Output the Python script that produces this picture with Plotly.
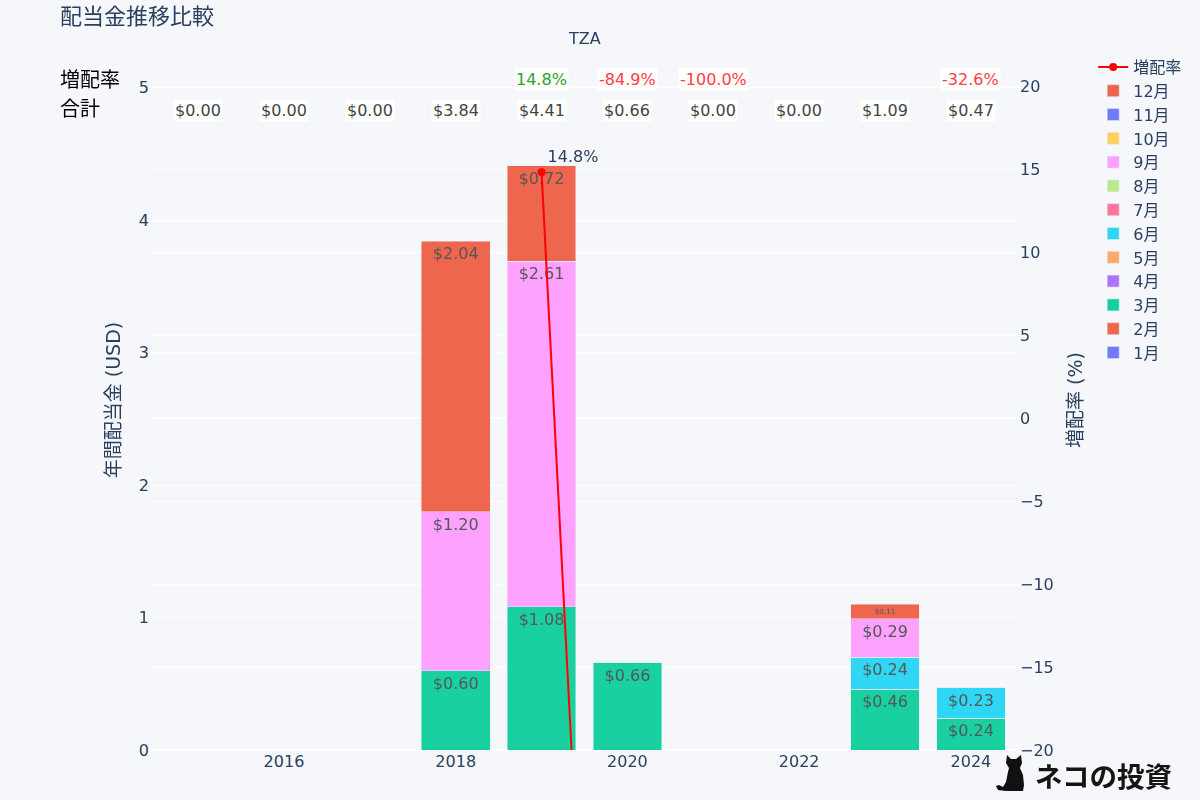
import plotly.graph_objects as go

years = [2015, 2016, 2017, 2018, 2019, 2020, 2021, 2022, 2023, 2024]
months = ["1月", "2月", "3月", "4月", "5月", "6月", "7月", "8月", "9月", "10月", "11月", "12月"]
colors = ["#636EFA", "#EF553B", "#00CC96", "#AB63FA", "#FFA15A", "#19D3F3",
          "#FF6692", "#B6E880", "#FF97FF", "#FECB52", "#636EFA", "#EF553B"]
mar = [0, 0, 0, 0.60, 1.08, 0.66, 0, 0, 0.46, 0.24]
jun = [0, 0, 0, 0, 0, 0, 0, 0, 0.24, 0.23]
sep = [0, 0, 0, 1.20, 2.61, 0, 0, 0, 0.29, 0]
dec = [0, 0, 0, 2.04, 0.72, 0, 0, 0, 0.11, 0]
empty = [0] * 10
month_values = [empty, empty, mar, empty, empty, jun, empty, empty, sep, empty, empty, dec]
totals = [0.00, 0.00, 0.00, 3.84, 4.41, 0.66, 0.00, 0.00, 1.09, 0.47]
growth = [None, None, None, None, 14.8, -84.9, -100.0, None, None, -32.6]

FONT = "DejaVu Sans, Noto Sans CJK JP, sans-serif"
BG = "#F5F7FB"
W, H = 1200, 800
L, R, T, B = 150, 181, 50, 50

fig = go.Figure()
for name, vals, col in zip(months, month_values, colors):
    fig.add_trace(go.Bar(
        x=years, y=vals, name=name, marker_color=col, opacity=0.9,
        text=[f"${v:.2f}" if v > 0 else "" for v in vals],
        textposition="inside", insidetextanchor="end",
        textangle=0,
        textfont=dict(color="#444444", size=16),
        hoverinfo="skip",
    ))

fig.add_trace(go.Scatter(
    x=years, y=growth, name="増配率", yaxis="y2", mode="lines+markers+text",
    connectgaps=True,
    line=dict(color="red", width=2), marker=dict(color="red", size=8),
    text=[f"{g:.1f}%" if g is not None else "" for g in growth],
    textposition="top right", textfont=dict(size=16),
))


def py(y):
    return (H - B - y) / (H - T - B)


def px(x):
    return (x - L) / (W - L - R)


annotations = [
    dict(text="TZA", x=0.5, y=py(39), xref="paper", yref="paper", showarrow=False,
         font=dict(size=16), yanchor="middle"),
    dict(text="増配率", x=px(58), y=py(80), xref="paper", yref="paper", showarrow=False,
         xanchor="left", yanchor="middle", font=dict(size=20, color="black")),
    dict(text="合計", x=px(58), y=py(109), xref="paper", yref="paper", showarrow=False,
         xanchor="left", yanchor="middle", font=dict(size=20, color="black")),
    dict(text="<b>ネコの投資</b>", x=px(1033), y=py(775), xref="paper", yref="paper", showarrow=False,
         xanchor="left", yanchor="middle",
         font=dict(size=27.5, color="#151515", family="Noto Sans CJK JP")),
]
for yr, total in zip(years, totals):
    annotations.append(dict(text=f"${total:.2f}", x=yr, y=py(110), xref="x", yref="paper",
                            showarrow=False, yanchor="middle", bgcolor="white",
                            font=dict(size=16, color="#444444")))
for yr, g in zip(years, growth):
    if g is not None:
        annotations.append(dict(text=f"{g:.1f}%", x=yr, y=py(80), xref="x", yref="paper",
                                showarrow=False, yanchor="middle", bgcolor="white",
                                font=dict(size=16, color="#2ca02c" if g >= 0 else "#ff4040")))

cat_px = [(1007, 755), (1011, 759), (1016, 759), (1021, 755), (1022, 763), (1020, 768), (1023, 775),
          (1024, 785), (1023, 791), (1006, 791), (998, 790), (996, 786), (999, 785), (1003, 787),
          (1006, 782), (1008, 772), (1009, 768), (1006, 763)]
cat_path = "M " + " L ".join(f"{px(a):.5f},{py(b):.5f}" for a, b in cat_px) + " Z"

fig.update_layout(
    template="plotly",
    width=W, height=H,
    barmode="stack",
    font=dict(family=FONT, size=16),
    paper_bgcolor=BG, plot_bgcolor=BG,
    title=dict(text="配当金推移比較", x=60 / W, xanchor="left", y=1 - 16 / H, yanchor="middle"),
    margin=dict(l=L, r=R, t=T, b=B, autoexpand=False),
    xaxis=dict(range=[2014.44, 2024.56], dtick=2, tick0=2016, showgrid=False, zeroline=False),
    yaxis=dict(title=dict(text="年間配当金 (USD)", standoff=13), range=[0, 5.283], dtick=1),
    yaxis2=dict(title=dict(text="増配率 (%)"), range=[-20, 22.17], dtick=5, overlaying="y", side="right"),
    legend=dict(x=1.0854, y=1.0, xanchor="left", yanchor="top", traceorder="reversed"),
    annotations=annotations,
    shapes=[dict(type="path", path=cat_path, xref="paper", yref="paper",
                 fillcolor="#111111", line=dict(width=0))],
)
fig.write_html("out.html", config={"displayModeBar": False},
               post_script="document.body.style.margin='0';document.documentElement.style.overflow='hidden';")
